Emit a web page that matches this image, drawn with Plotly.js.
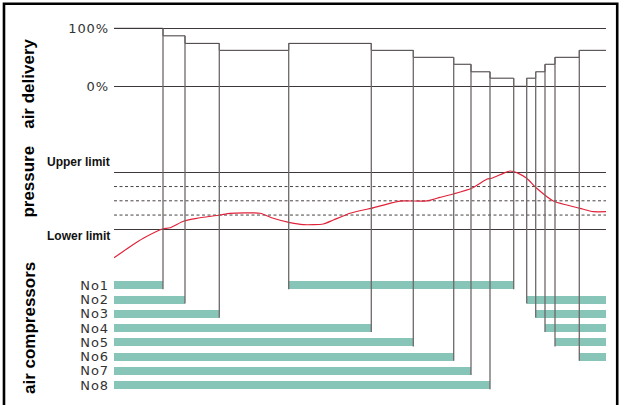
<!DOCTYPE html>
<html>
<head>
<meta charset="utf-8">
<script src="https://cdn.plot.ly/plotly-3.0.1.min.js"></script>
<style>
  html, body { margin: 0; padding: 0; background: #fff; }
  #chart { width: 624px; height: 405px; }
  .ytick text, .y3tick text { letter-spacing: 0.9px; }
</style>
</head>
<body>
<div id="chart"></div>
<script>
// ---------------- data (time in arbitrary units, 0 .. 492) ----------------
const endTime = 492;
// start time of each air-delivery step and its level (%)
const stepTimes   = [0, 49, 71, 105.3, 174.7, 257.3, 299.3, 339.7, 357, 376, 399.7, 412.7, 421.7, 431, 441, 465.3];
const deliveryPct = [100, 87, 74, 62, 74, 62, 50, 38, 25, 14, 0, 14, 25, 38, 50, 62];
// compressor switched at each step start (index aligned with stepTimes; first has none)
const switchedUnit = [null, 1, 2, 3, 1, 4, 5, 6, 7, 8, 1, 2, 3, 4, 5, 6];

// compressors and their running intervals
const compressorNames = ['No1', 'No2', 'No3', 'No4', 'No5', 'No6', 'No7', 'No8'];
const runUnit  = [1, 1, 2, 2, 3, 3, 4, 4, 5, 5, 6, 6, 7, 8];
const runStart = [0, 174.7, 0, 412.7, 0, 421.7, 0, 431, 0, 441, 0, 465.3, 0, 0];
const runEnd   = [49, 399.7, 71, 492, 105.3, 492, 257.3, 492, 299.3, 492, 339.7, 492, 357, 376];

// pressure (bar) over time
const pressureT = [0, 16, 29.3, 48.3, 56, 70, 82.7, 106, 116, 146, 159.3, 176, 189.3, 209.3, 219.3, 236, 249.3, 257.3, 276, 286, 311, 319.3, 326, 339.3, 357.7, 372.7, 377.7, 389.3, 396, 404.3, 412.7, 422.7, 439.3, 452.7, 466, 479.3, 492];
const pressureP = [5.50, 5.695, 5.842, 6.005, 6.028, 6.146, 6.193, 6.251, 6.281, 6.281, 6.193, 6.116, 6.081, 6.093, 6.163, 6.281, 6.339, 6.368, 6.456, 6.496, 6.496, 6.526, 6.561, 6.619, 6.719, 6.877, 6.895, 6.982, 7.023, 6.982, 6.895, 6.719, 6.496, 6.426, 6.368, 6.309, 6.309];
const lowerLimit = 6.0, upperLimit = 7.0;
const pressureSteps = [6.25, 6.5, 6.75];

// ---------------- layout constants ----------------
const delivRange = [-92.6, 148.8];
const pressRange = [5.4263, 7.5667];
const compRange  = [9.388, -0.633];
const barHalf = 0.28;
const lineCol = '#3f3838';
const vCol = '#6e6868';

// ---------------- traces ----------------
const stepX = stepTimes.concat([endTime]);
const stepY = deliveryPct.concat([deliveryPct[deliveryPct.length - 1]]);

const traces = [
  {
    type: 'scatter', mode: 'lines', x: stepX, y: stepY, xaxis: 'x', yaxis: 'y',
    line: {shape: 'hv', color: lineCol, width: 1}, hoverinfo: 'skip'
  },
  {
    type: 'scatter', mode: 'lines', x: pressureT, y: pressureP, xaxis: 'x', yaxis: 'y2',
    line: {shape: 'spline', smoothing: 0.6, color: '#e0233a', width: 1.2}, hoverinfo: 'skip'
  },
  {
    type: 'bar', orientation: 'h', y: runUnit, base: runStart,
    x: runEnd.map((e, i) => e - runStart[i]),
    xaxis: 'x', yaxis: 'y3', width: barHalf * 2,
    marker: {color: '#87c5b9', line: {width: 0}}, hoverinfo: 'skip'
  }
];

// ---------------- shapes: event lines ----------------
const shapes = [];
for (let i = 1; i < stepTimes.length; i++) {
  const t = stepTimes[i];
  const top = Math.max(deliveryPct[i], deliveryPct[i - 1]);
  const unit = switchedUnit[i];
  const ln = {color: vCol, width: 1.3};
  shapes.push({type: 'line', layer: 'above', xref: 'x', yref: 'y', x0: t, x1: t, y0: top, y1: delivRange[0], line: ln});
  shapes.push({type: 'line', layer: 'above', xref: 'x', yref: 'y2 domain', x0: t, x1: t, y0: 0, y1: 1, line: ln});
  shapes.push({type: 'line', layer: 'above', xref: 'x', yref: 'y3', x0: t, x1: t, y0: compRange[1], y1: unit + barHalf, line: ln});
}
// dashed pressure steps
pressureSteps.forEach(p => shapes.push({
  type: 'line', layer: 'below', xref: 'paper', yref: 'y2', x0: 0, x1: 1, y0: p, y1: p,
  line: {color: '#4a4444', width: 1, dash: '3px,2.5px'}
}));
// outer frame
shapes.push({type: 'rect', xref: 'paper', yref: 'paper', x0: -0.2236, x1: 1.0228, y0: -0.02, y1: 0.9909,
  line: {color: '#000', width: 2.6}, fillcolor: 'rgba(0,0,0,0)', layer: 'above'});

// ---------------- annotations ----------------
const titleFont = {family: 'Liberation Sans, Arial, sans-serif', size: 17, color: '#000', weight: 'bold'};
const limFont = {family: 'Liberation Sans, Arial, sans-serif', size: 12, color: '#111', weight: 'bold'};
const secTitle = (text, y) => ({text: text, textangle: -90, xref: 'paper', yref: 'paper', x: -0.1728, y: y,
  xanchor: 'center', yanchor: 'middle', showarrow: false, font: titleFont});
const annotations = [
  secTitle('air delivery', 0.793),
  secTitle('pressure', 0.5515),
  secTitle('air compressors', 0.19),
  {text: 'Upper limit', xref: 'paper', yref: 'y2', x: 0, y: upperLimit, xanchor: 'right', yanchor: 'middle', xshift: -2, yshift: 10, showarrow: false, font: limFont},
  {text: 'Lower limit', xref: 'paper', yref: 'y2', x: 0, y: lowerLimit, xanchor: 'right', yanchor: 'middle', xshift: -2, yshift: -7, showarrow: false, font: limFont}
];

const tickFont = {family: 'DejaVu Sans, sans-serif', size: 13, color: '#333'};

const layout = {
  width: 624, height: 405,
  margin: {l: 114, r: 18, t: 0, b: 0, pad: 0},
  paper_bgcolor: '#fff', plot_bgcolor: '#fff',
  showlegend: false,
  xaxis: {range: [0, endTime], visible: false, fixedrange: true, anchor: 'y3'},
  yaxis: {
    domain: [0.65432, 1], range: delivRange, anchor: 'x',
    tickmode: 'array', tickvals: [0, 100], ticktext: ['0%', '100%'],
    showgrid: true, gridcolor: lineCol, gridwidth: 1,
    zeroline: false, showline: false, ticks: '', ticklabelstandoff: 4, tickfont: tickFont
  },
  yaxis2: {
    domain: [0.35309, 0.65432], range: pressRange, anchor: 'x',
    tickmode: 'array', tickvals: [lowerLimit, upperLimit], ticktext: ['', ''],
    showgrid: true, gridcolor: lineCol, gridwidth: 1,
    zeroline: false, showline: false, ticks: ''
  },
  yaxis3: {
    domain: [0, 0.35309], range: compRange, anchor: 'x',
    tickmode: 'array', tickvals: [1, 2, 3, 4, 5, 6, 7, 8], ticktext: compressorNames,
    showgrid: false, zeroline: false, showline: false, ticks: '', ticklabelstandoff: 4, tickfont: tickFont
  },
  shapes: shapes,
  annotations: annotations,
  bargap: 0
};

Plotly.newPlot('chart', traces, layout, {staticPlot: true, displayModeBar: false});
</script>
</body>
</html>
